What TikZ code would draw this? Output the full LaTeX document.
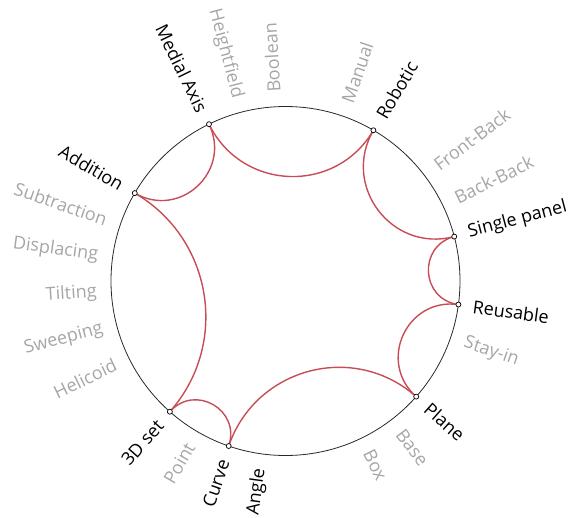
\documentclass[tikz,border=0pt]{standalone}
\usepackage{fontspec}
\setmainfont{Open Sans}
\definecolor{arcred}{RGB}{200,76,86}
\definecolor{lblgray}{RGB}{166,166,166}
\definecolor{rimgray}{RGB}{40,40,40}
\tikzset{
  rim/.style={draw=rimgray, line width=0.8pt},
  hyp/.style={draw=arcred, line width=1.4pt},
  dot/.style={circle, draw=black, fill=white, line width=0.7pt, inner sep=0pt, minimum size=5pt},
  lbl/.style={font=\fontsize{18}{21}\selectfont, inner sep=0pt},
  rl/.style={lbl, anchor=west},
  ll/.style={lbl, anchor=east},
  cat/.style={text=black},
  opt/.style={text=lblgray},
}
\begin{document}
\begin{tikzpicture}[x=1pt,y=1pt]
\useasboundingbox (-285.5,-236) rectangle (283.5,281);
\def\R{174.5}
\def\r{189}
\node[circle, rim, minimum size=349pt, inner sep=0pt] (rimc) at (0,0) {};
% category points
\coordinate (ma) at (116:\R);
\coordinate (ro) at (59.75:\R);
\coordinate (sp) at (14.75:\R);
\coordinate (re) at (-7.75:\R);
\coordinate (pl) at (-41.5:\R);
\coordinate (cu) at (-109:\R);
\coordinate (td) at (-131.5:\R);
\coordinate (ad) at (149.75:\R);
% geodesic arcs
\draw[hyp] (ro) to[out=239.75, in=296, distance=74.54] (ma);
\draw[hyp] (sp) to[out=194.75, in=239.75, distance=64.40] (ro);
\draw[hyp] (re) to[out=172.25, in=194.75, distance=37.98] (sp);
\draw[hyp] (pl) to[out=138.5, in=172.25, distance=52.34] (re);
\draw[hyp] (cu) to[out=71, in=138.5, distance=83.10] (pl);
\draw[hyp] (td) to[out=48.5, in=71, distance=37.98] (cu);
\draw[hyp] (ad) to[out=329.75, in=48.5, distance=90.31] (td);
\draw[hyp] (ma) to[out=296, in=329.75, distance=52.34] (ad);
% dots
\foreach \p in {ma,ro,sp,re,pl,cu,td,ad} {\node[dot] (\p-d) at (\p) {};}
% labels
\node[ll, cat, rotate=-64]    (ma-l) at (116:\r) {Medial Axis};
\node[ll, opt, rotate=-75.25] (hf-l) at (104.75:\r) {Heightfield};
\node[rl, opt, rotate=93.5]   (bo-l) at (93.5:\r) {Boolean};
\node[rl, opt, rotate=71]     (mn-l) at (71:\r) {Manual};
\node[rl, cat, rotate=59.75]  (ro-l) at (59.75:\r) {Robotic};
\node[rl, opt, rotate=37.25]  (fb-l) at (37.25:\r) {Front-Back};
\node[rl, opt, rotate=26]     (bb-l) at (26:\r) {Back-Back};
\node[rl, cat, rotate=14.75]  (sp-l) at (14.75:\r) {Single panel};
\node[rl, cat, rotate=-7.75]  (re-l) at (-7.75:\r) {Reusable};
\node[rl, opt, rotate=-19]    (si-l) at (-19:\r) {Stay-in};
\node[rl, cat, rotate=-41.5]  (pl-l) at (-41.5:\r) {Plane};
\node[rl, opt, rotate=-52.75] (ba-l) at (-52.75:\r) {Base};
\node[rl, opt, rotate=-64]    (bx-l) at (-64:\r) {Box};
\node[ll, cat, rotate=82.25]  (an-l) at (-97.75:\r) {Angle};
\node[ll, cat, rotate=71]     (cu-l) at (-109:\r) {Curve};
\node[ll, opt, rotate=59.75]  (pt-l) at (-120.25:\r) {Point};
\node[ll, cat, rotate=48.5]   (td-l) at (-131.5:\r) {3D set};
\node[ll, opt, rotate=26]     (he-l) at (-154:\r) {Helicoid};
\node[ll, opt, rotate=14.75]  (sw-l) at (-165.25:\r) {Sweeping};
\node[ll, opt, rotate=3.5]    (ti-l) at (-176.5:\r) {Tilting};
\node[ll, opt, rotate=-7.75]  (di-l) at (172.25:\r) {Displacing};
\node[ll, opt, rotate=-19]    (su-l) at (161:\r) {Subtraction};
\node[ll, cat, rotate=-30.25] (ad-l) at (149.75:\r) {Addition};
\end{tikzpicture}
\end{document}
